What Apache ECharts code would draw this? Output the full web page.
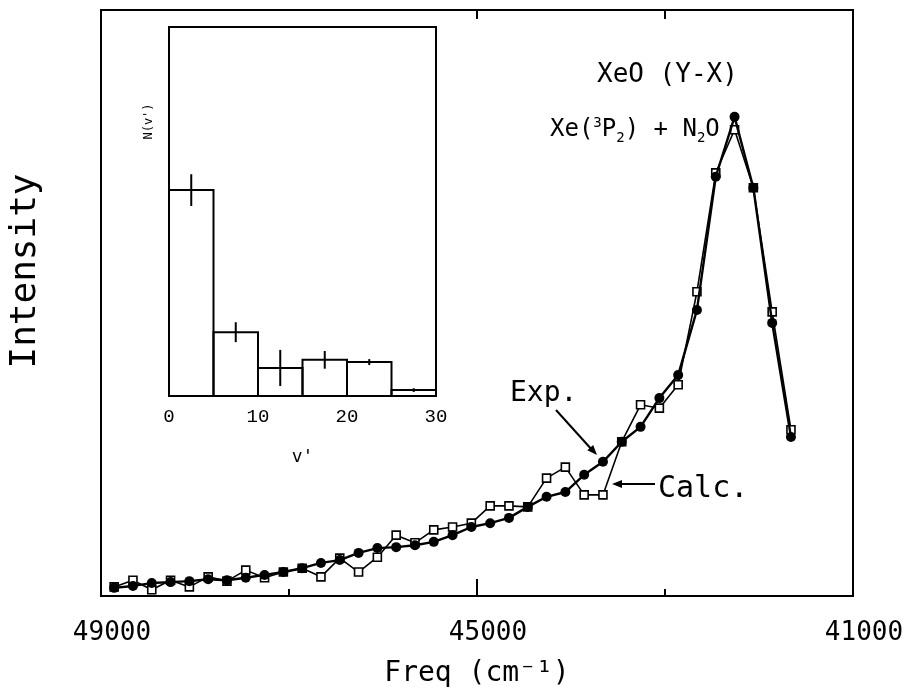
<!DOCTYPE html>
<html><head><meta charset="utf-8">
<script src="https://cdn.jsdelivr.net/npm/echarts@6/dist/echarts.min.js"></script>
<style>html,body{margin:0;padding:0;background:#fff}#c{width:914px;height:697px}</style>
</head><body><div id="c"></div>
<script>
// ---- main spectrum data (frequency in cm^-1, intensity arbitrary units) ----
const freq = [48860,48660,48460,48260,48060,47860,47660,47460,47260,47060,
              46860,46660,46460,46260,46060,45860,45660,45460,45260,45060,
              44860,44660,44460,44260,44060,43860,43660,43460,43260,43060,
              42860,42660,42460,42260,42060,41860,41660];
const expI = [1.7,2.1,2.7,2.9,3.1,3.5,3.3,3.8,4.4,5.0,
              5.8,6.9,7.5,9.0,10.0,10.2,10.6,11.3,12.7,14.4,
              15.2,16.3,18.6,20.7,21.7,25.3,28.0,32.2,35.3,41.3,
              46.1,59.7,87.5,100,85.2,57.0,33.2];
const calcI = [1.9,3.3,1.3,3.3,1.9,4.0,3.1,5.4,3.8,5.0,
               5.8,4.0,7.9,5.0,8.1,12.7,11.1,13.8,14.4,15.2,
               18.8,18.8,18.6,24.6,26.9,21.1,21.1,32.2,39.9,39.2,
               44.1,63.5,88.3,97.3,85.2,59.3,34.7];
const xTickLabels = ['49000','45000','41000'];

// ---- inset: vibrational distribution N(v') ----
const vBins = [0,5,10,15,20,25,30];
const nv = [55.8,17.3,7.6,9.8,9.2,1.6];
const nvErr = [4.3,2.7,4.9,2.4,0.8,0.5];

const FONT = 'DejaVu Sans Mono';
const chart = echarts.init(document.getElementById('c'), null, {renderer: 'canvas'});

const insetData = nv.map((n, i) => [vBins[i], vBins[i + 1], n, nvErr[i]]);

const option = {
  backgroundColor: '#fff',
  animation: false,
  grid: [
    {left: 100, top: 10, width: 753, height: 586, show: true, borderColor: '#000', borderWidth: 2, backgroundColor: 'transparent'},
    {left: 169, top: 27, width: 267, height: 369, show: true, borderColor: '#000', borderWidth: 2, backgroundColor: '#fff', z: 5}
  ],
  xAxis: [
    {gridIndex: 0, type: 'value', min: 41000, max: 49000, interval: 2000, inverse: true,
     axisLine: {show: false}, splitLine: {show: false},
     axisTick: {show: true, inside: true, length: 7, lineStyle: {color: '#000', width: 2}},
     axisLabel: {color: '#000', fontFamily: FONT, fontSize: 26, margin: 24, padding: [0, 0, 0, 22],
       formatter: v => xTickLabels.indexOf(String(v)) >= 0 ? String(v) : ''},
     name: 'Freq (cm⁻¹)', nameLocation: 'middle', nameGap: 64,
     nameTextStyle: {color: '#000', fontFamily: FONT, fontSize: 28}},
    {gridIndex: 0, type: 'value', min: 41000, max: 49000, interval: 2000, inverse: true, position: 'top',
     axisLine: {show: false}, splitLine: {show: false}, axisLabel: {show: false},
     axisTick: {show: true, inside: true, length: 9, customValues: [45000, 43000], lineStyle: {color: '#000', width: 2}}},
    {gridIndex: 0, type: 'value', min: 41000, max: 49000, interval: 2000, inverse: true, position: 'bottom',
     axisLine: {show: false}, splitLine: {show: false}, axisLabel: {show: false},
     axisTick: {show: true, inside: true, length: 17, customValues: [45000], lineStyle: {color: '#000', width: 2}}},
    {gridIndex: 1, type: 'value', min: 0, max: 30, interval: 10,
     axisLine: {show: false}, splitLine: {show: false}, axisTick: {show: false},
     axisLabel: {color: '#000', fontFamily: 'Liberation Mono', fontSize: 19, margin: 11},
     name: "v'", nameLocation: 'middle', nameGap: 52,
     nameTextStyle: {color: '#000', fontFamily: FONT, fontSize: 18}},
    {gridIndex: 1, type: 'value', min: 0, max: 30, interval: 10, position: 'top',
     axisLine: {show: false}, splitLine: {show: false}, axisLabel: {show: false},
     axisTick: {show: true, inside: true, length: 8, lineStyle: {color: '#000', width: 2}}}
  ],
  yAxis: [
    {gridIndex: 0, type: 'value', min: 0, max: 122.3,
     axisLine: {show: false}, axisTick: {show: false}, axisLabel: {show: false}, splitLine: {show: false},
     name: 'Intensity', nameLocation: 'middle', nameGap: 57, nameRotate: 90,
     nameTextStyle: {color: '#000', fontFamily: FONT, fontSize: 36, padding: [0, 0, 0, 64]}},
    {gridIndex: 1, type: 'value', min: 0, max: 100,
     axisLine: {show: false}, axisTick: {show: false}, axisLabel: {show: false}, splitLine: {show: false},
     name: "N(v')", nameLocation: 'middle', nameGap: 14, nameRotate: 90,
     nameTextStyle: {color: '#000', fontFamily: FONT, fontSize: 12, padding: [0, 0, 0, 180]}}
  ],
  series: [
    {name: 'Calc.', type: 'line', xAxisIndex: 0, yAxisIndex: 0,
     data: freq.map((f, i) => [f, calcI[i]]),
     symbol: 'rect', symbolSize: 8,
     itemStyle: {color: '#fff', borderColor: '#000', borderWidth: 1.6},
     lineStyle: {color: '#000', width: 1.6}, z: 3},
    {name: 'Exp.', type: 'line', xAxisIndex: 0, yAxisIndex: 0,
     data: freq.map((f, i) => [f, expI[i]]),
     symbol: 'circle', symbolSize: 10,
     itemStyle: {color: '#000'},
     lineStyle: {color: '#000', width: 2.4}, z: 4},
    {name: 'N(v)', type: 'custom', xAxisIndex: 3, yAxisIndex: 1, z: 10,
     data: insetData,
     encode: {x: [0, 1], y: 2},
     renderItem: function (params, api) {
       const v0 = api.value(0), v1 = api.value(1), n = api.value(2), e = api.value(3);
       const pBase = api.coord([v0, 0]);
       const pTop = api.coord([v1, n]);
       const mid = (v0 + v1) / 2;
       const eLo = api.coord([mid, n - e]);
       const eHi = api.coord([mid, n + e]);
       return {
         type: 'group',
         children: [
           {type: 'rect', shape: {x: pBase[0], y: pTop[1], width: pTop[0] - pBase[0], height: pBase[1] - pTop[1]},
            style: {fill: 'none', stroke: '#000', lineWidth: 2}},
           {type: 'line', shape: {x1: eLo[0], y1: eLo[1], x2: eHi[0], y2: eHi[1]},
            style: {stroke: '#000', lineWidth: 2}}
         ]
       };
     }}
  ],
  graphic: [
    {type: 'text', left: 597, top: 62, z: 20,
     style: {text: 'XeO (Y-X)', fontFamily: FONT, fontSize: 26, fill: '#000'}},
    {type: 'text', left: 550, top: 113, z: 20,
     style: {text: 'Xe({sup|3}P{sub|2}) + N{sub|2}O', fontFamily: FONT, fontSize: 24, lineHeight: 34, fill: '#000',
       rich: {
         sup: {fontFamily: FONT, fontSize: 14, verticalAlign: 'top', lineHeight: 34, padding: [3, 0, 0, 0]},
         sub: {fontFamily: FONT, fontSize: 14, verticalAlign: 'bottom', lineHeight: 34, padding: [0, 0, 2, 0]}
       }}},
    {type: 'text', left: 510, top: 380, z: 20,
     style: {text: 'Exp.', fontFamily: FONT, fontSize: 28, fill: '#000'}},
    {type: 'text', left: 658, top: 474, z: 20,
     style: {text: 'Calc.', fontFamily: FONT, fontSize: 30, fill: '#000'}},
    {type: 'line', z: 20, shape: {x1: 556, y1: 410, x2: 593, y2: 451}, style: {stroke: '#000', lineWidth: 2}},
    {type: 'polygon', z: 20, shape: {points: [[597, 455], [587.3, 450.3], [593.2, 444.9]]}, style: {fill: '#000'}},
    {type: 'line', z: 20, shape: {x1: 655, y1: 484, x2: 618, y2: 484}, style: {stroke: '#000', lineWidth: 2}},
    {type: 'polygon', z: 20, shape: {points: [[612, 484], [622, 480], [622, 488]]}, style: {fill: '#000'}}
  ]
};
chart.setOption(option);
</script>
</body></html>
